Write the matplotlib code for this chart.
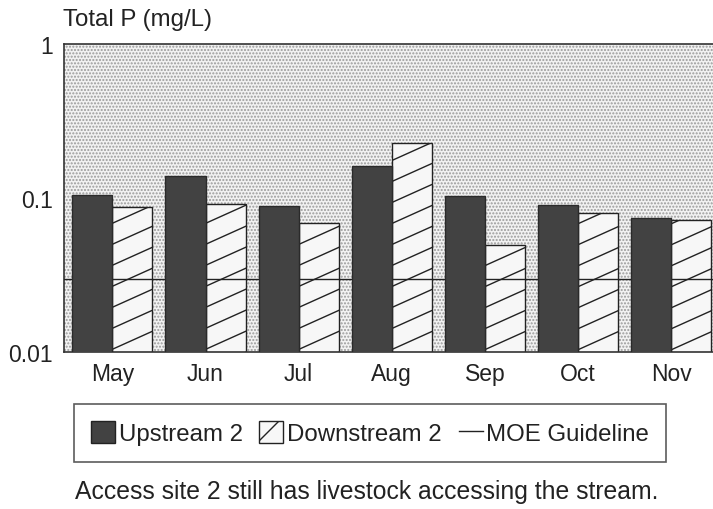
import matplotlib
matplotlib.use("Agg")
import matplotlib.pyplot as plt
from matplotlib.patches import Patch, Rectangle
from matplotlib.lines import Line2D
from matplotlib.collections import LineCollection
import numpy as np

plt.rcParams['font.family'] = ['Liberation Sans', 'DejaVu Sans']
plt.rcParams['hatch.linewidth'] = 1.0

months = ["May", "Jun", "Jul", "Aug", "Sep", "Oct", "Nov"]
upstream = [0.104, 0.139, 0.089, 0.161, 0.103, 0.090, 0.074]
downstream = [0.087, 0.091, 0.069, 0.228, 0.0495, 0.080, 0.072]
guideline = 0.03
ytick_vals = [0.01, 0.1, 1]
ytick_labels = ["0.01", "0.1", "1"]

W, H = 713, 510
fig = plt.figure(figsize=(W / 100, H / 100), dpi=100)
ax_box = [64 / W, 1 - 353 / H, 1 - 64 / W, (353 - 45) / H]
ax = fig.add_axes(ax_box)

ax.set_yscale('log')
ax.set_ylim(0.01, 1)
ax.set_xlim(-0.52, 6.45)

# stippled plot background
ax.set_facecolor('white')
bg = Rectangle((0, 0), 1, 1, transform=ax.transAxes, facecolor='#f2f2f2',
               edgecolor='#9a9a9a', hatch='.....', linewidth=0, zorder=0)
ax.add_patch(bg)

x = np.arange(len(months))
w = 0.43
down_bars = ax.bar(x + w / 2, downstream, width=w, color='#f7f7f7',
                   edgecolor='#222222', linewidth=1.0, zorder=2)
ax.axhline(guideline, color='#222222', linewidth=1.0, zorder=3)
ax.bar(x - w / 2, upstream, width=w, color='#424242', edgecolor='#2a2a2a',
       linewidth=1.0, zorder=4)

# shallow diagonal hatching inside the downstream bars
ax_w_px = ax_box[2] * W
ax_h_px = ax_box[3] * H
slope, step = 0.45, 21.0
offsets = np.arange(-slope * ax_w_px - step, ax_h_px + step, step)
segs = [[(0, c / ax_h_px), (1, (c + slope * ax_w_px) / ax_h_px)] for c in offsets]
for bar in down_bars:
    lc = LineCollection(segs, colors='#222222', linewidths=1.0,
                        transform=ax.transAxes, zorder=2.5)
    ax.add_collection(lc)
    lc.set_clip_path(bar.get_path(), bar.get_transform())
    lc.set_clip_box(ax.bbox)

ax.set_xticks(x)
ax.set_xticklabels(months, fontsize=16.5, color='#222222')
ax.set_yticks(ytick_vals)
ax.set_yticklabels(ytick_labels, fontsize=16.5, color='#222222')
ax.yaxis.set_minor_locator(matplotlib.ticker.NullLocator())
ax.tick_params(axis='x', length=0, pad=7)
ax.tick_params(axis='y', length=0, pad=8)

for side in ['top', 'left', 'bottom']:
    ax.spines[side].set_color('#333333')
    ax.spines[side].set_linewidth(1.2)
ax.spines['right'].set_visible(False)

fig.text(63 / W, 1 - 20 / H, "Total P (mg/L)", fontsize=17.3,
         color='#222222', va='center', ha='left')

handles = [
    Patch(facecolor='#424242', edgecolor='#222222', label='Upstream 2'),
    Patch(facecolor='#f7f7f7', edgecolor='#222222', hatch='/', label='Downstream 2'),
    Line2D([0], [0], color='#222222', linewidth=1.0, label='MOE Guideline'),
]
leg = fig.legend(handles=handles, loc='center', ncol=3,
                 bbox_to_anchor=(370 / W, 1 - 434 / H),
                 fontsize=17.3, frameon=True, fancybox=False,
                 edgecolor='#333333', handlelength=1.0, handleheight=1.0,
                 handletextpad=0.15, columnspacing=0.7, borderpad=0.7)
leg.get_frame().set_linewidth(1.2)
for t in leg.get_texts():
    t.set_color('#222222')

fig.text(75 / W, 1 - 492 / H,
         "Access site 2 still has livestock accessing the stream.",
         fontsize=17.8, color='#222222', va='center', ha='left')

fig.savefig("out.png", dpi=100)
